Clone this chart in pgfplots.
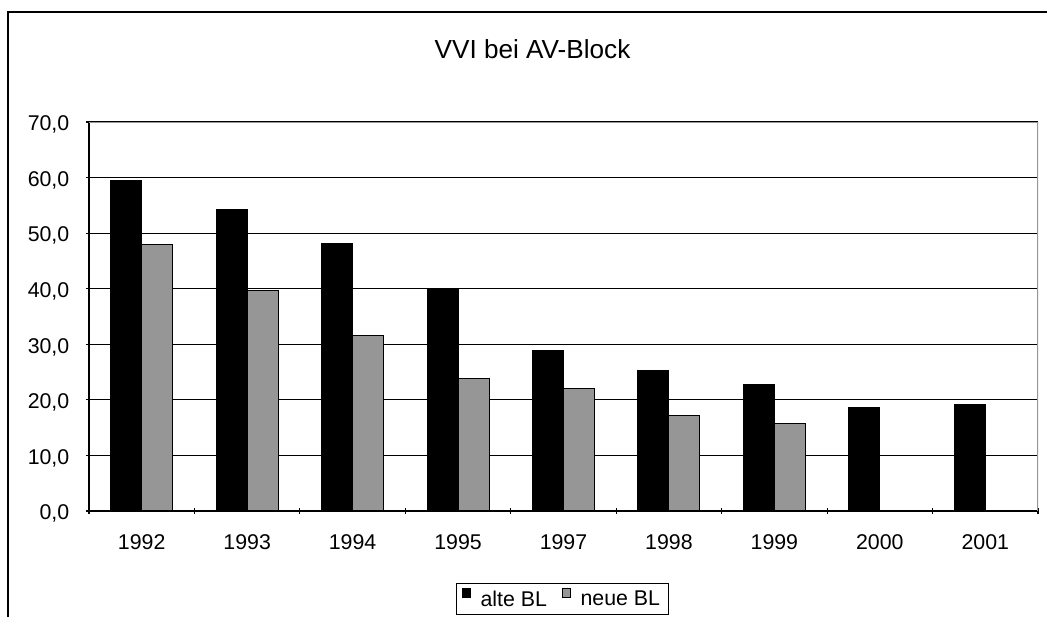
\documentclass[border=0pt]{standalone}
\usepackage{pgfplots}
\pgfplotsset{compat=1.18}
\usepackage{fontspec}
\setmainfont{Liberation Sans}
\definecolor{neue}{RGB}{150,150,150}
\definecolor{rahmen}{RGB}{150,150,150}
\begin{document}
\begin{tikzpicture}
\useasboundingbox (0,0) rectangle (785.25pt,462.75pt);
\draw[line width=1.5pt] (6pt,-20pt) -- (6pt,453.75pt) -- (800pt,453.75pt);
\node[font=\fontsize{19.6}{23}\selectfont, anchor=base] at (399.4pt,418.5pt) {VVI bei AV-Block};
\begin{axis}[
  at={(66.75pt,79.5pt)}, anchor=south west,
  scale only axis, width=711.75pt, height=291.75pt,
  ybar=0pt, bar width=23.25pt,
  xmin=-0.5, xmax=8.5, ymin=0, ymax=70,
  ytick={0,10,...,70},
  xtick={0,...,8},
  xticklabels={1992,1993,1994,1995,1997,1998,1999,2000,2001},
  xtick style={draw=none},
  extra x ticks={-0.5,0.5,...,8.5},
  extra x tick labels={},
  extra x tick style={xtick style={draw=black, line width=0.8pt}},
  ytick style={draw=black, line width=0.8pt},
  tick align=outside, major tick length=4.5pt,
  axis lines=left, axis line style={-, line width=0.8pt, black},
  ymajorgrids, grid style={black, line width=0.8pt},
  ticklabel style={font=\fontsize{16}{19}\selectfont},
  xticklabel style={yshift=-12pt},
  yticklabel style={xshift=-9pt, yshift=-2pt},
  /pgf/number format/.cd, fixed, fixed zerofill, precision=1, use comma, assume math mode=true,
  /pgfplots/.cd,
  legend style={at={(0.5,0)}, anchor=north, yshift=-54pt, xshift=-1pt, legend columns=2,
    draw=black, line width=0.8pt, font=\fontsize{16}{19}\selectfont,
    inner xsep=4pt, inner ysep=3pt,
    nodes={inner xsep=2pt},
    /tikz/every odd column/.append style={column sep=5pt},
    /tikz/every even column/.append style={column sep=9pt}},
  legend image code/.code={\draw[#1, line width=0.7pt] (0pt,1.5pt) rectangle (6.5pt,8.5pt);},
  every axis plot/.append style={draw=black, line width=0.75pt},
]
\addplot[fill=black] coordinates {(0,59.4) (1,54.3) (2,48.2) (3,39.8) (4,28.8) (5,25.2) (6,22.7) (7,18.7) (8,19.1)};
\addplot[fill=neue] coordinates {(0,47.9) (1,39.6) (2,31.5) (3,23.8) (4,22.0) (5,17.2) (6,15.7)};
\legend{alte BL, neue BL}
\draw[rahmen, line width=1.2pt] (rel axis cs:0,1) -- (rel axis cs:1,1) -- (rel axis cs:1,0);
\end{axis}
\end{tikzpicture}
\end{document}
